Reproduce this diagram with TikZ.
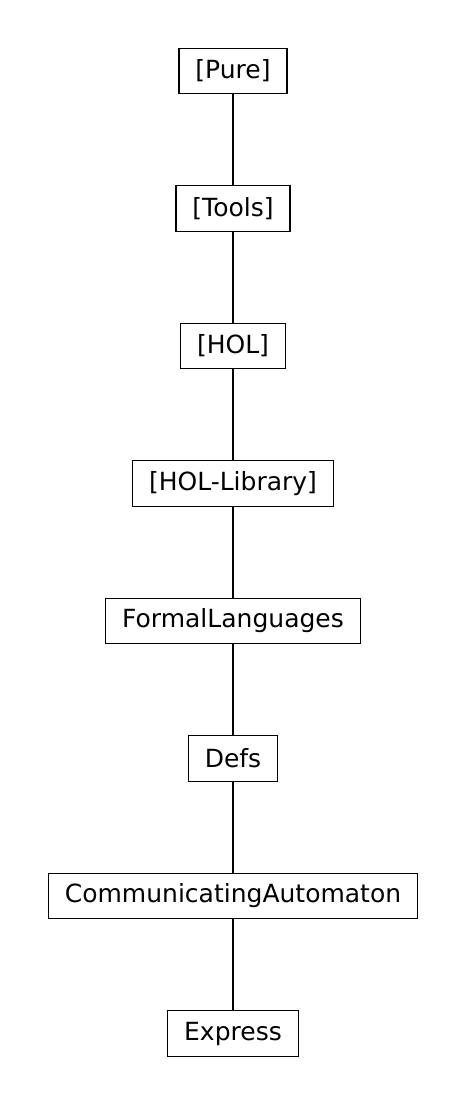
\documentclass[tikz,border=0pt]{standalone}
\usepackage{fontspec}
\setmainfont{DejaVu Sans}
\usetikzlibrary{positioning}
\tikzset{
    thybox/.style={draw, line width=1.2pt, minimum height=45.5pt, inner xsep=16.5pt,
        font=\fontsize{25}{30}\selectfont},
    dep/.style={line width=1.2pt}
}
\begin{document}
\begin{tikzpicture}[x=1pt, y=1pt, node distance=90.8pt]
                % Canvas
                \useasboundingbox (0,0) rectangle (467,-1105);
                % Theory nodes, top to bottom
                \node[thybox] (pure) at (233,-71) {[Pure]};
                \node[thybox, below=of pure] (tools) {[Tools]};
                \node[thybox, below=of tools] (hol) {[HOL]};
                \node[thybox, below=of hol] (hollib) {[HOL-Library]};
                \node[thybox, below=of hollib] (formal) {FormalLanguages};
                \node[thybox, below=of formal] (defs) {Defs};
                \node[thybox, below=of defs] (commaut) {CommunicatingAutomaton};
                \node[thybox, below=of commaut] (express) {Express};

                % Dependencies
                \draw[dep] (pure) -- (tools);
                \draw[dep] (tools) -- (hol);
                \draw[dep] (hol) -- (hollib);
                \draw[dep] (hollib) -- (formal);
                \draw[dep] (formal) -- (defs);
                \draw[dep] (defs) -- (commaut);
                \draw[dep] (commaut) -- (express);
            \end{tikzpicture}
\end{document}
